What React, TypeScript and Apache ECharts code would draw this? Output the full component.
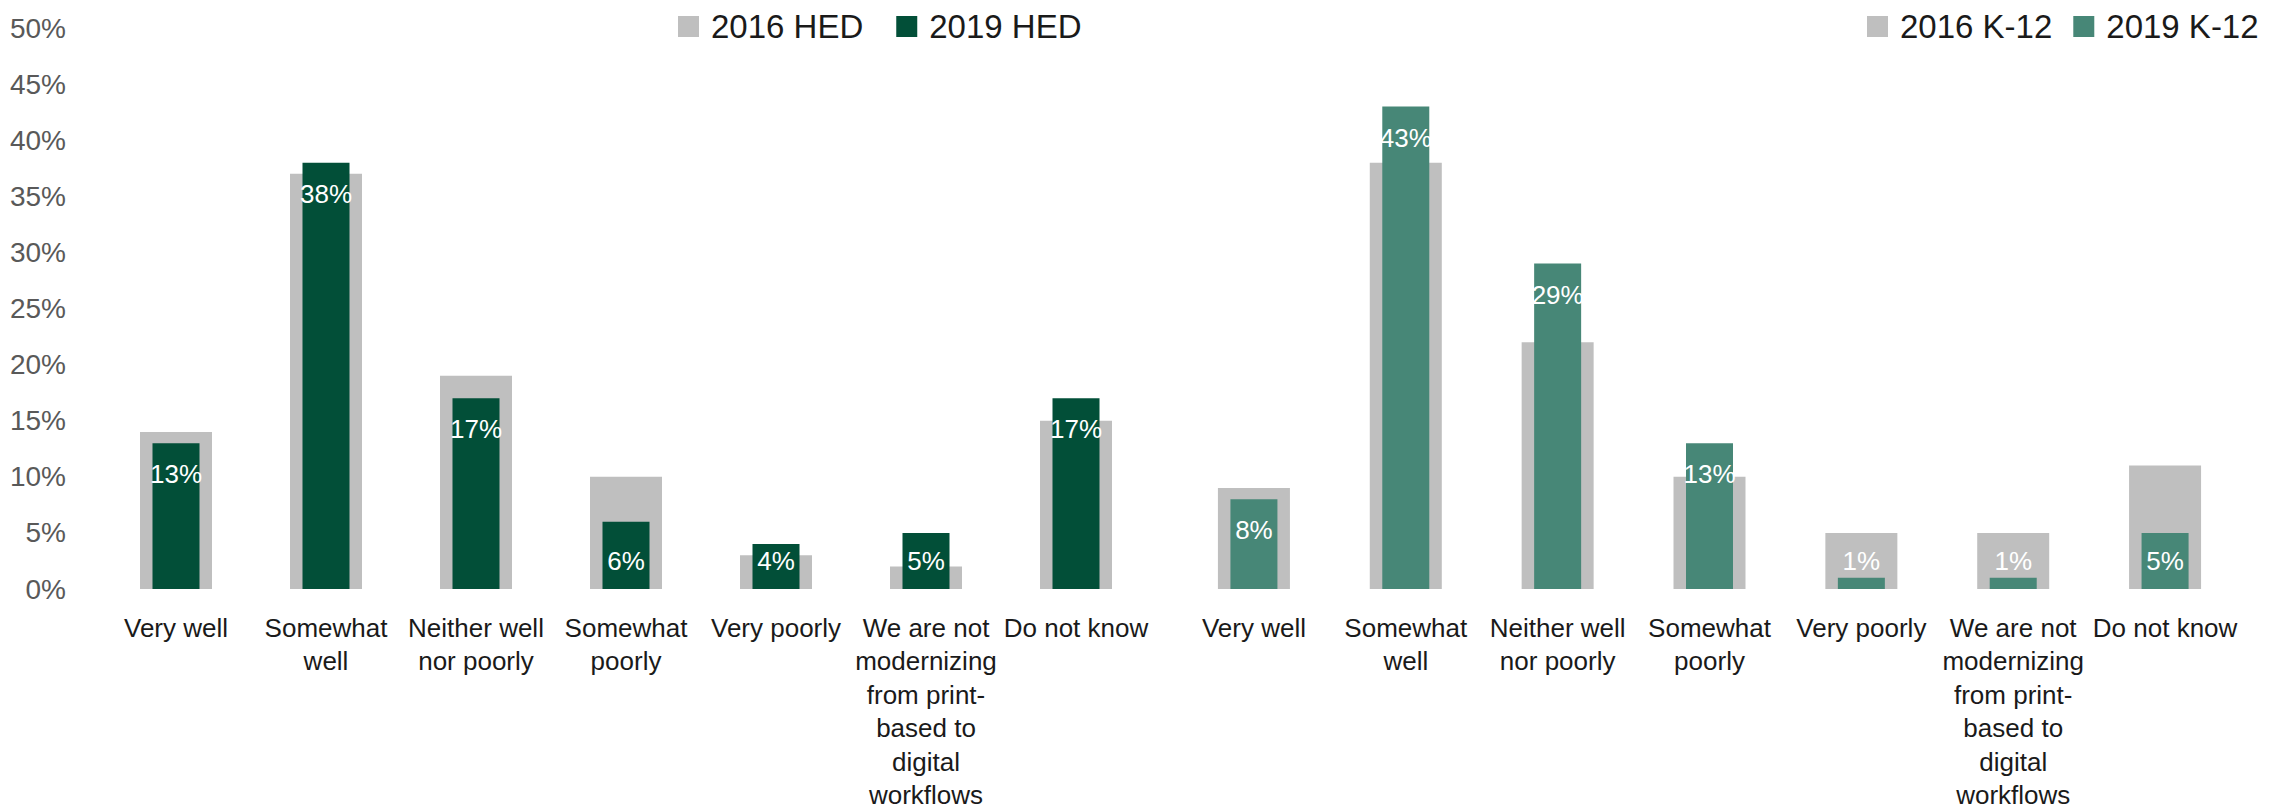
import React, { useEffect, useRef } from "react";
import * as echarts from "echarts";

const categories = [
  "Very well",
  "Somewhat\nwell",
  "Neither well\nnor poorly",
  "Somewhat\npoorly",
  "Very poorly",
  "We are not\nmodernizing\nfrom print-\nbased to\ndigital\nworkflows",
  "Do not know",
];
const hed2016 = [14, 37, 19, 10, 3, 2, 15];
const hed2019 = [13, 38, 17, 6, 4, 5, 17];
const k12_2016 = [9, 38, 22, 10, 5, 5, 11];
const k12_2019 = [8, 43, 29, 13, 1, 1, 5];
const yTicks = { min: 0, max: 50, interval: 5 };

const FONT = "'Liberation Sans', Arial, sans-serif";
const GRAY = "#BFBFBF";
const HED = "#024F38";
const K12 = "#478777";

function labelled(values: number[]) {
  return values.map((v) => ({
    value: v,
    label: v <= 6
      ? { position: "insideBottom", distance: 15 }
      : { position: "insideTop", distance: 18 },
  }));
}

export default function App() {
  const ref = useRef<HTMLDivElement>(null);
  useEffect(() => {
    if (!ref.current) return;
    const chart = echarts.init(ref.current, undefined, { renderer: "svg" });
    const catAxis = (gridIndex: number, show: boolean) => ({
      type: "category",
      gridIndex,
      data: categories,
      show,
      axisLine: { show: false },
      axisTick: { show: false },
      axisLabel: {
        interval: 0,
        color: "#1a1a1a",
        fontFamily: FONT,
        fontSize: 26,
        lineHeight: 33.5,
        margin: 22,
      },
    });
    const valAxis = (gridIndex: number, show: boolean) => ({
      type: "value",
      gridIndex,
      min: yTicks.min,
      max: yTicks.max,
      interval: yTicks.interval,
      show,
      splitLine: { show: false },
      axisLine: { show: false },
      axisTick: { show: false },
      axisLabel: {
        formatter: "{value}%",
        color: "#595959",
        fontFamily: FONT,
        fontSize: 28,
        margin: 35,
      },
    });
    const dataLabel = {
      show: true,
      color: "#ffffff",
      fontFamily: FONT,
      fontSize: 26,
      formatter: "{c}%",
    };
    const legendText = { fontFamily: FONT, fontSize: 33, color: "#1a1a1a", padding: [0, 0, 0, 7] };
    chart.setOption({
      animation: false,
      grid: [
        { left: 101, width: 1050, top: 28, bottom: 221 },
        { left: 1178, width: 1063, top: 28, bottom: 221 },
      ],
      legend: [
        {
          data: ["2016 HED", "2019 HED"],
          left: 678,
          top: 10,
          padding: 0,
          itemWidth: 21,
          itemHeight: 21,
          itemGap: 33,
          icon: "rect",
          textStyle: legendText,
        },
        {
          data: ["2016 K-12", "2019 K-12"],
          left: 1867,
          top: 10,
          padding: 0,
          itemWidth: 21,
          itemHeight: 21,
          itemGap: 21,
          icon: "rect",
          textStyle: legendText,
        },
      ],
      xAxis: [catAxis(0, true), catAxis(0, false), catAxis(1, true), catAxis(1, false)],
      yAxis: [valAxis(0, true), valAxis(1, false)],
      series: [
        { name: "2016 HED", type: "bar", xAxisIndex: 0, yAxisIndex: 0, barWidth: 72, itemStyle: { color: GRAY }, data: hed2016 },
        { name: "2019 HED", type: "bar", xAxisIndex: 1, yAxisIndex: 0, barWidth: 47, itemStyle: { color: HED }, label: dataLabel, data: labelled(hed2019) },
        { name: "2016 K-12", type: "bar", xAxisIndex: 2, yAxisIndex: 1, barWidth: 72, itemStyle: { color: GRAY }, data: k12_2016 },
        { name: "2019 K-12", type: "bar", xAxisIndex: 3, yAxisIndex: 1, barWidth: 47, itemStyle: { color: K12 }, label: dataLabel, data: labelled(k12_2019) },
      ],
    });
    return () => chart.dispose();
  }, []);
  return (
    <div
      ref={ref}
      style={{ position: "fixed", left: 0, top: 0, width: 2287, height: 812, background: "#fff" }}
    />
  );
}
